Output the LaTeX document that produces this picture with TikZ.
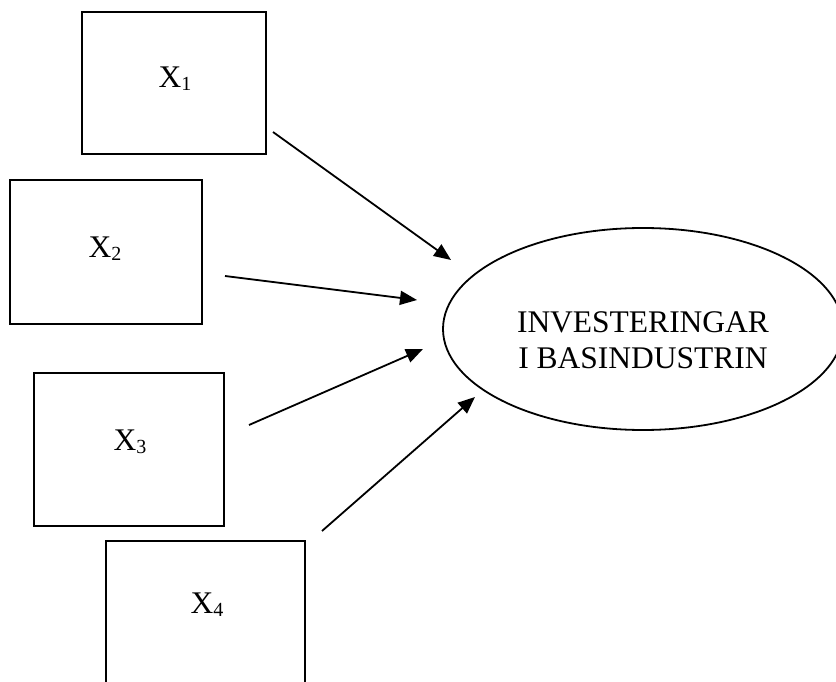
\documentclass[tikz,border=0pt]{standalone}
\usepackage{fontspec}
\setmainfont{Liberation Serif}
\usetikzlibrary{arrows.meta,shapes.geometric}
\newcommand{\xsub}[1]{X\raisebox{-3pt}{\fontsize{20}{20}\selectfont #1}}
\begin{document}
\begin{tikzpicture}[x=1pt,y=-1pt,
  boxstyle/.style={draw,line width=1.8pt,rectangle,inner sep=0pt,minimum width=#1},
  lbl/.style={inner sep=0pt,font=\fontsize{31.5}{36}\selectfont},
  arr/.style={line width=1.8pt,-{Triangle[length=17pt,width=14pt]}}]
\useasboundingbox (0,0) rectangle (836,682);
\clip (0,0) rectangle (836,682);
\node[boxstyle=184pt,minimum height=142pt] (x1) at (174,83) {};
\node[boxstyle=192pt,minimum height=144pt] (x2) at (106,252) {};
\node[boxstyle=190pt,minimum height=153pt] (x3) at (129,449.5) {};
\node[boxstyle=199pt,minimum height=162pt] (x4) at (205.5,622) {};
\node[lbl] (x1t) at (175,79) {\xsub{1}};
\node[lbl] (x2t) at (105,249) {\xsub{2}};
\node[lbl] (x3t) at (130,442) {\xsub{3}};
\node[lbl] (x4t) at (207,605) {\xsub{4}};
\node[draw,ellipse,line width=1.8pt,minimum width=400pt,minimum height=202pt,inner sep=0pt] (e) at (643,329) {};
\node[align=center,font=\fontsize{31.5}{36}\selectfont,inner sep=0pt] (t) at (643,340) {INVESTERINGAR\\I BASINDUSTRIN};
\coordinate (s1) at (273,132); \coordinate (e1) at (451,260);
\coordinate (s2) at (225,276); \coordinate (e2) at (417,300);
\coordinate (s3) at (249,425); \coordinate (e3) at (423,349);
\coordinate (s4) at (322,531); \coordinate (e4) at (475,397);
\draw[arr] (s1) -- (e1);
\draw[arr] (s2) -- (e2);
\draw[arr] (s3) -- (e3);
\draw[arr] (s4) -- (e4);
\end{tikzpicture}
\end{document}
